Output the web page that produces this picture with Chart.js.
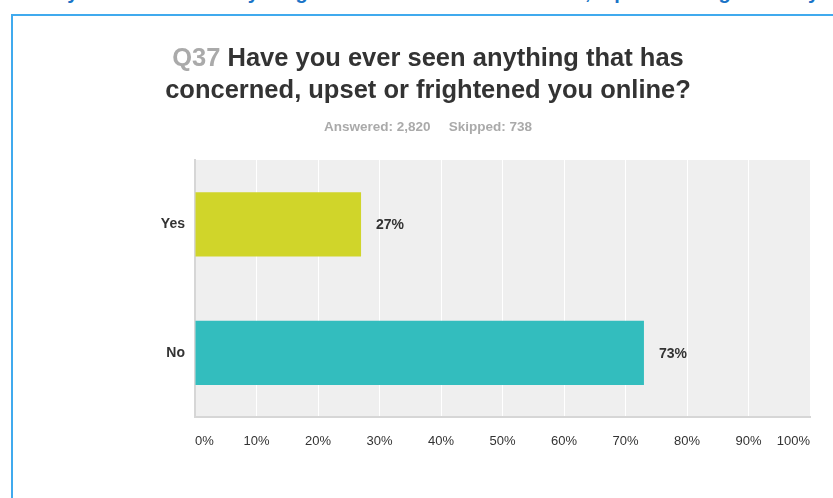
<!DOCTYPE html>
<html>
<head>
<meta charset="utf-8">
<script src="https://cdn.jsdelivr.net/npm/chart.js@4.4.1/dist/chart.umd.min.js"></script>
<style>
  html, body { margin: 0; padding: 0; background: #fff; overflow: hidden; }
  body { width: 833px; height: 498px; position: relative; font-family: 'Liberation Sans', Arial, sans-serif; }
  #cut { position: absolute; left: 8px; top: -18px; font: bold 20px/20px 'Liberation Sans', Arial, sans-serif; color: #1a74c7; white-space: nowrap; word-spacing: 6px; }
  #frame { position: absolute; left: 11px; top: 14px; width: 900px; height: 600px; border-left: 2px solid #40aaee; border-top: 2px solid #40aaee; }
  #title { position: absolute; left: 0; width: 856px; top: 41px; text-align: center; font: bold 25.5px/32px 'Liberation Sans', Arial, sans-serif; color: #333; }
  #title .q { color: #aaa; }
  #sub { position: absolute; left: 0; width: 856px; top: 119px; text-align: center; font: bold 13.5px/16px 'Liberation Sans', Arial, sans-serif; color: #aaa; }
  #sub span { margin: 0 9px; }
  canvas { position: absolute; left: 0; top: 0; }
</style>
</head>
<body>
<div id="cut">Have you ever seen anything online that has concerned, upset or frightened you?</div>
<div id="frame"></div>
<canvas id="c" width="833" height="498"></canvas>
<div id="title"><span class="q">Q37</span> Have you ever seen anything that has<br>concerned, upset or frightened you online?</div>
<div id="sub"><span>Answered: 2,820</span><span>Skipped: 738</span></div>
<script>
const categories = ['Yes', 'No'];
const percents = [27, 73];
const barColors = ['#d0d52a', '#33bdbe'];
const tickValues = [0, 10, 20, 30, 40, 50, 60, 70, 80, 90, 100];

const plotBg = {
  id: 'plotBg',
  beforeDraw(chart) {
    const { ctx, chartArea: a } = chart;
    ctx.save();
    ctx.fillStyle = '#efefef';
    ctx.fillRect(a.left, a.top, a.right - a.left, a.bottom - a.top);
    ctx.restore();
  }
};

// percentage text to the right of each bar
const valueLabels = {
  id: 'valueLabels',
  afterDatasetsDraw(chart) {
    const ctx = chart.ctx;
    ctx.save();
    ctx.font = "bold 14px 'Liberation Sans', Arial, sans-serif";
    ctx.fillStyle = '#333';
    ctx.textBaseline = 'middle';
    chart.getDatasetMeta(0).data.forEach((bar, i) => {
      ctx.fillText(percents[i] + '%', bar.x + 15, bar.y + 1);
    });
    ctx.restore();
  }
};

new Chart(document.getElementById('c'), {
  type: 'bar',
  data: {
    labels: categories,
    datasets: [{ data: percents, backgroundColor: barColors, borderWidth: 0, barPercentage: 0.5, categoryPercentage: 1 }]
  },
  options: {
    indexAxis: 'y',
    responsive: false,
    animation: false,
    devicePixelRatio: 1,
    layout: { padding: { left: 0, top: 160, right: 23, bottom: 0 } },
    plugins: { legend: { display: false }, tooltip: { enabled: false }, title: { display: false } },
    scales: {
      x: {
        min: 0, max: 100,
        afterBuildTicks: s => { s.ticks = tickValues.map(v => ({ value: v })); },
        afterFit: s => { s.height = 81; },
        grid: { color: c => (c.index === 0 || c.index === tickValues.length - 1) ? 'rgba(0,0,0,0)' : '#ffffff', lineWidth: 1, drawTicks: false },
        border: { display: true, color: '#d6d6d6', width: 2 },
        ticks: { callback: v => v + '%', color: '#333', padding: 17, align: 'inner', maxRotation: 0, autoSkip: false,
                 font: { family: "'Liberation Sans', Arial, sans-serif", size: 13 } }
      },
      y: {
        afterFit: s => { s.width = 195; },
        grid: { display: false, drawTicks: false },
        border: { display: true, color: '#d6d6d6', width: 2 },
        ticks: { color: '#333', padding: 10, font: { family: "'Liberation Sans', Arial, sans-serif", size: 14, weight: 'bold' } }
      }
    }
  },
  plugins: [plotBg, valueLabels]
});
</script>
</body>
</html>
